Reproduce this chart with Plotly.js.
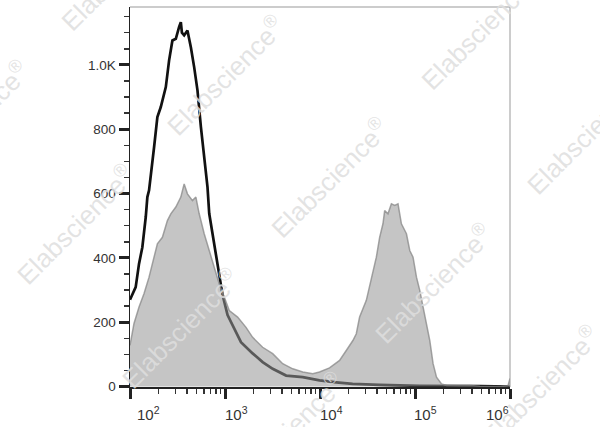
<!DOCTYPE html>
<html>
<head>
<meta charset="utf-8">
<script src="https://cdn.plot.ly/plotly-3.0.1.min.js"></script>
<style>html,body{margin:0;padding:0;background:#fff;}#chart{width:600px;height:427px;}</style>
</head>
<body>
<div id="chart"></div>
<script>
// Black outline histogram (control)
var blackX = [100, 114.8, 124.5, 134.9, 146.5, 152.3, 158.7, 165.4, 179.2, 194.2, 210.9, 238.2, 258, 279.5, 303.6, 328.9, 342.8, 352, 371.5, 402.5, 437.1, 473.6, 513.2, 557.5, 604, 629.5, 654.3, 682.1, 738.9, 802.9, 869.8, 942.2, 1064, 1252, 1473, 1953, 2490, 3177, 4399, 6585, 9879, 14830, 22030, 42460, 112200, 482000, 1000000];
var blackY = [270, 309, 382, 433, 527, 589, 610, 662, 744, 838, 869, 931, 1014, 1076, 1081, 1118, 1133, 1100, 1092, 1107, 1055, 993, 921, 807, 713, 660, 620, 538, 476, 414, 340, 285, 222, 178, 138, 103, 76, 55, 34, 29, 19, 13, 8, 5, 2, 1, 0];
// Gray filled histogram (stained)
var grayX = [100, 110.2, 124.5, 140.6, 158.7, 179.2, 194.2, 219.3, 247.6, 268.9, 303.6, 342.8, 371.5, 402.5, 454.4, 493.6, 534.9, 604, 682.1, 770, 869.8, 982, 1109, 1357, 1664, 1953, 2490, 3177, 4050, 5164, 6585, 8395, 9879, 12600, 16070, 18900, 22200, 24110, 26120, 30730, 34710, 39190, 42460, 46010, 47950, 51950, 56430, 61140, 66240, 71940, 81270, 88050, 95370, 103600, 112200, 121600, 132100, 143100, 155000, 168400, 190200, 214800, 296500, 378400, 482000, 783000, 952000, 990000, 1000000];
var grayY = [128, 196, 247, 289, 340, 402, 444, 464, 516, 537, 558, 589, 630, 599, 578, 589, 537, 475, 423, 371, 319, 278, 236, 216, 184, 153, 122, 102, 71, 55, 45, 40, 45, 58, 81, 112, 143, 164, 216, 268, 340, 402, 464, 506, 547, 537, 568, 563, 568, 506, 475, 423, 402, 340, 299, 247, 195, 143, 71, 29, 8, 3, 2, 3, 1, 0, 2, 25, 25];

var yTickVals = [0, 200, 400, 600, 800, 1000];
var yTickText = ['0', '200', '400', '600', '800', '1.0K'];
var yMinorVals = [50, 100, 150, 250, 300, 350, 450, 500, 550, 650, 700, 750, 850, 900, 950, 1050, 1100, 1150];
var xTickVals = [100, 1000, 10000, 100000, 1000000];
var xTickText = ['10<sup>2</sup>', '10<sup>3</sup>', '10<sup>4</sup>', '10<sup>5</sup>', '10<sup>6</sup>'];
var xMinorVals = [];
[100, 1000, 10000, 100000].forEach(function (d) {
  for (var k = 2; k <= 9; k++) xMinorVals.push(k * d);
});
var watermarkText = 'Elabscience<sup>®</sup>';

var traces = [
  {x: blackX, y: blackY, type: 'scatter', mode: 'lines',
   line: {color: '#111111', width: 2.7}, hoverinfo: 'skip'},
  {x: grayX, y: grayY, type: 'scatter', mode: 'lines', fill: 'tozeroy',
   fillcolor: 'rgba(150,150,150,0.55)',
   line: {color: 'rgba(135,135,135,0.75)', width: 1.5}, hoverinfo: 'skip'}
];

var L = 130, T = 7, W = 380, H = 380;
function px(x) { return (x - L) / W; }
function py(y) { return (T + H - y) / H; }

var annotations = [];
var labelShift = [18, 11, 11, 10, -13];
xTickVals.forEach(function (v, i) {
  annotations.push({
    x: Math.log10(v), xref: 'x', y: py(402), yref: 'paper',
    text: xTickText[i], showarrow: false, xanchor: 'center', yanchor: 'top',
    xshift: labelShift[i],
    font: {family: 'Liberation Sans, Arial, sans-serif', size: 15, color: '#333333'}
  });
});
var wmCenters = [[120, -29], [225, 75], [330, 178], [433, 283], [540, 385],
                 [-30, 120], [75, 224], [180, 328], [285, 432],
                 [480, 30], [585, 134]];
wmCenters.forEach(function (c) {
  annotations.push({
    x: px(c[0]), y: py(c[1]), xref: 'paper', yref: 'paper',
    text: watermarkText, showarrow: false, textangle: -45,
    xanchor: 'center', yanchor: 'middle',
    font: {family: 'Liberation Sans, Arial, sans-serif', size: 26, color: 'rgba(222,222,222,0.85)'}
  });
});

var layout = {
  width: 600, height: 427,
  margin: {l: L, r: 600 - L - W, t: T, b: 427 - T - H, pad: 0},
  paper_bgcolor: '#ffffff', plot_bgcolor: '#ffffff',
  showlegend: false,
  xaxis: {
    type: 'log', range: [2, 6], showgrid: false, zeroline: false,
    showline: true, linecolor: '#222222', linewidth: 1.5,
    tickmode: 'array', tickvals: xTickVals, ticktext: xTickText,
    showticklabels: false,
    ticks: 'outside', ticklen: 10, tickwidth: 3, tickcolor: '#222222',
    minor: {tickmode: 'array', tickvals: xMinorVals, ticks: 'outside', ticklen: 5, tickwidth: 1.5, tickcolor: '#333333', showgrid: false}
  },
  yaxis: {
    range: [-1.5, 1180], showgrid: false, zeroline: false,
    showline: true, linecolor: '#222222', linewidth: 1.5,
    tickmode: 'array', tickvals: yTickVals, ticktext: yTickText,
    ticks: 'outside', ticklen: 10, tickwidth: 3, tickcolor: '#222222',
    tickfont: {family: 'Liberation Sans, Arial, sans-serif', size: 13.5, color: '#333333'},
    minor: {tickmode: 'array', tickvals: yMinorVals, ticks: 'outside', ticklen: 5, tickwidth: 1.5, tickcolor: '#333333', showgrid: false}
  },
  shapes: [
    {type: 'line', xref: 'paper', yref: 'paper', x0: 0, x1: 1, y0: 1, y1: 1, line: {color: '#999999', width: 1}},
    {type: 'line', xref: 'paper', yref: 'paper', x0: 1, x1: 1, y0: 0, y1: 1, line: {color: '#999999', width: 1}}
  ],
  annotations: annotations
};

Plotly.newPlot('chart', traces, layout, {staticPlot: true, displayModeBar: false});
</script>
</body>
</html>
